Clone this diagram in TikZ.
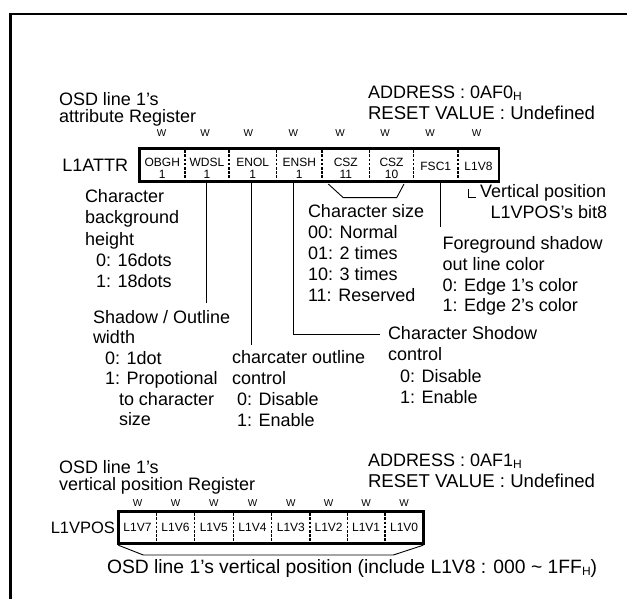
\documentclass[tikz,border=0pt]{standalone}
\usepackage{fontspec}
\setmainfont{Liberation Sans}
\newcommand\subH{\raisebox{-2pt}{\fontsize{12}{12}\selectfont H}}
\begin{document}
\begin{tikzpicture}[x=1pt,y=-1pt,
  every node/.style={inner sep=0pt, outer sep=0pt},
  big/.style={font=\fontsize{18}{20.8}\selectfont, anchor=base west},
  reset/.style={font=\fontsize{18.6}{21}\selectfont, anchor=base west},
  sm/.style={font=\fontsize{12}{13}\selectfont, anchor=base},
  wsm/.style={font=\fontsize{10}{11}\selectfont, anchor=base},
  regbox/.style={draw, line width=2.8pt, minimum width=#1},
  divider/.style={line width=1.3pt, dash pattern=on 2.6pt off 1.6pt},
  conn/.style={line width=0.9pt},
  frame/.style={line width=2.8pt}]
\useasboundingbox (0,0) rectangle (627,599);
% outer frame (cropped)
\coordinate (frTR) at (627,14);
\coordinate (frTL) at (10.3,14);
\coordinate (frBL) at (10.3,599);
\draw[frame] (frTR) -- (frTL) -- (frBL);

% ================= top register =================
\node[big] (tA1) at (59,105.5) {OSD line 1’s};
\node[big] (tA2) at (59,123) {attribute Register};
\node[big] (adA1) at (368,99) {ADDRESS : 0AF0\subH};
\node[reset] (adA2) at (368,119.5) {RESET VALUE : Undefined};
\foreach \x [count=\i] in {161.7,205,248.3,293.3,340,385,430,476.7}
  \node[wsm] (wA\i) at (\x,136.5) {W};
\node[big, anchor=base east] (nA) at (128,171.5) {L1ATTR};
\node[regbox=359.5pt, minimum height=33.2pt] (boxA) at (319.25,164.9) {};
\foreach \x [count=\i] in {185,229,276.5,322,369.5,413.5,458}
  \draw[divider] (\x,150.2) -- (\x,180);
\foreach \x/\a/\b [count=\i] in {162.25/OBGH/1,207/WDSL/1,252.75/ENOL/1,299.25/ENSH/1,345.75/CSZ/11,391.5/CSZ/10}{
  \node[sm] (bA\i) at (\x,166.3) {\a};
  \node[sm] (vA\i) at (\x,178.8) {\b};}
\node[sm] (bA7) at (435.75,170.5) {FSC1};
\node[sm] (bA8) at (478.5,170.5) {L1V8};

% labels
\node[big] (c1) at (85,203) {Character};
\node[big] (c2) at (85,224) {background};
\node[big] (c3) at (85,245) {height};
\node[big] (c4) at (96,266.5) {0: 16dots};
\node[big] (c5) at (96,287.5) {1: 18dots};

\node[big] (s1) at (93,323) {Shadow / Outline};
\node[big] (s2) at (93,343.5) {width};
\node[big] (s3) at (105,364) {0: 1dot};
\node[big] (s4) at (105,384.5) {1: Propotional};
\node[big] (s5) at (119,405) {to character};
\node[big] (s6) at (119,425.5) {size};

\node[big] (o1) at (232,363.5) {charcater outline};
\node[big] (o2) at (232,384.5) {control};
\node[big] (o3) at (237,405.5) {0: Disable};
\node[big] (o4) at (237,426.5) {1: Enable};

\node[big] (z1) at (308,218) {Character size};
\node[big] (z2) at (308,239) {00: Normal};
\node[big] (z3) at (308,259.8) {01: 2 times};
\node[big] (z4) at (308,280.5) {10: 3 times};
\node[big] (z5) at (308,301.5) {11: Reserved};

\node[big] (v1) at (480,197.5) {Vertical position};
\node[big] (v2) at (490.5,218.3) {L1VPOS’s bit8};

\node[big] (f1) at (442.5,249.5) {Foreground shadow};
\node[big] (f2) at (442.5,270.3) {out line color};
\node[big] (f3) at (442.5,291) {0: Edge 1’s color};
\node[big] (f4) at (442.5,311.8) {1: Edge 2’s color};

\node[big] (h1) at (388,339.5) {Character Shodow};
\node[big] (h2) at (388,360.5) {control};
\node[big] (h3) at (400,382) {0: Disable};
\node[big] (h4) at (400,403) {1: Enable};

% connectors
\coordinate (wdslT) at (206.7,183);  \coordinate (wdslB) at (206.7,303);
\coordinate (enolT) at (251.7,183);  \coordinate (enolB) at (251.7,345);
\coordinate (enshT) at (293.3,183);  \coordinate (enshK) at (293.3,334);
\coordinate (enshE) at (380,334);
\coordinate (fscT) at (440.5,183);   \coordinate (fscB) at (440.5,227);
\coordinate (cszA) at (328.3,184);   \coordinate (cszB) at (343.3,197.7);
\coordinate (cszC) at (396.7,197.7); \coordinate (cszD) at (404,184);
\coordinate (lvA) at (468,189);      \coordinate (lvB) at (468,197);
\coordinate (lvC) at (476,197);
\draw[conn] (wdslT) -- (wdslB);
\draw[conn] (enolT) -- (enolB);
\draw[conn] (enshT) -- (enshK) -- (enshE);
\draw[conn] (fscT) -- (fscB);
\draw[conn] (cszA) -- (cszB) -- (cszC) -- (cszD);
\draw[conn, line width=0.8pt] (lvA) -- (lvB) -- (lvC);

% ================= bottom register =================
\node[big] (tB1) at (59,473) {OSD line 1’s};
\node[big] (tB2) at (59,490.5) {vertical position Register};
\node[big] (adB1) at (368,466.5) {ADDRESS : 0AF1\subH};
\node[reset] (adB2) at (368,487) {RESET VALUE : Undefined};
\foreach \x [count=\i] in {137.5,175.5,213.8,252.5,290.85,328.65,366.15,404.15}
  \node[wsm] (wB\i) at (\x,506) {W};
\node[big, anchor=base east, font=\fontsize{16.5}{20}\selectfont] (nB) at (115,533.5) {L1VPOS};
\node[regbox=305pt, minimum height=31.6pt] (boxB) at (270.8,527.5) {};
\foreach \x in {156.7,194.3,233.3,271.7,310,347.3,385}
  \draw[divider] (\x,513.2) -- (\x,542);
\foreach \x/\a [count=\i] in {137.5/L1V7,175.5/L1V6,213.8/L1V5,252.5/L1V4,290.85/L1V3,328.65/L1V2,366.15/L1V1,404.15/L1V0}
  \node[sm] (bB\i) at (\x,531.5) {\a};
\coordinate (brA) at (118.3,545.2);
\coordinate (brB) at (143.3,555);
\coordinate (brC) at (393.3,555);
\coordinate (brD) at (423.3,545.2);
\draw[conn] (brA) -- (brB) -- (brC) -- (brD);
\node[big, font=\fontsize{19.3}{22}\selectfont] (bot) at (107,573) {OSD line 1’s vertical position (include L1V8 : 000 \textasciitilde\ 1FF\subH)};
\end{tikzpicture}
\end{document}
